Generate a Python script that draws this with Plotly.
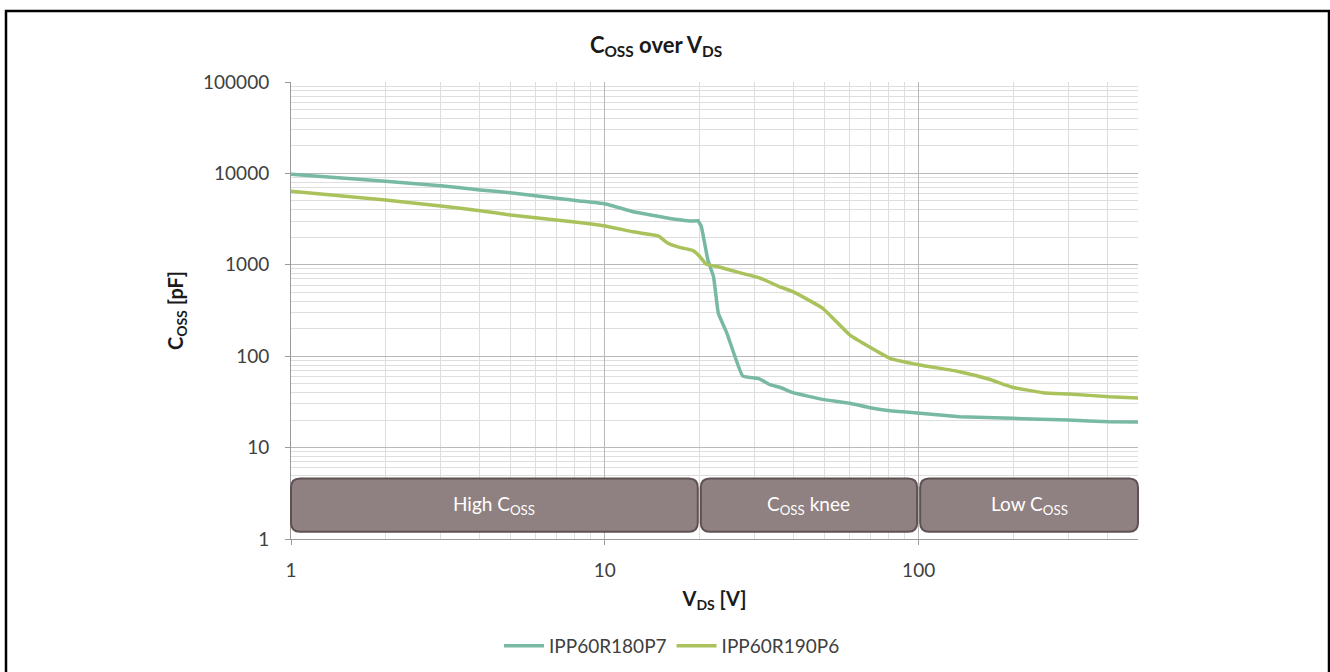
import math
import plotly.graph_objects as go

# ---------------- data ----------------
vds_p7 = [1, 2, 3, 4, 5, 7, 8.3, 10, 12.3, 13.6, 16.5, 19.1, 19.8, 20.3, 21.3, 22.2, 23.0,
          24.5, 27.5, 31.1, 33.6, 36.1, 39.8, 49.5, 60.3, 70, 81, 89.3, 101, 135, 199, 301, 405, 500]
coss_p7 = [9800, 8200, 7330, 6580, 6150, 5340, 5000, 4650, 3810, 3570, 3170, 3010, 3040, 2610, 1130,
           741, 295, 178, 60.7, 56.5, 48.8, 45.7, 39.9, 33.7, 30.5, 27.3, 25.3, 24.7, 23.7, 21.8,
           20.9, 20.0, 19.2, 19.1]

vds_p6 = [1, 2, 3, 4, 5, 7, 8.3, 10, 12.3, 14.8, 15.9, 17.3, 19.1, 20.0, 21.0, 23.3, 26.9, 31.1,
          36.1, 39.8, 49.5, 60.3, 70, 81, 101, 135, 168, 199, 249, 301, 405, 500]
coss_p6 = [6370, 5120, 4400, 3910, 3510, 3090, 2900, 2660, 2300, 2070, 1720, 1550, 1430, 1250, 1020,
           940, 820, 720, 575, 508, 334, 171, 125, 94.8, 80.1, 67.7, 55.9, 45.7, 39.9, 38.6, 36.0, 34.9]

series_names = ["IPP60R180P7", "IPP60R190P6"]
series_colors = ["#78b9a3", "#a9c25b"]

y_tickvals = [1, 10, 100, 1000, 10000, 100000]
y_ticktext = ["1", "10", "100", "1000", "10000", "100000"]
x_tickvals = [1, 10, 100]
x_ticktext = ["1", "10", "100"]

# region bands: label, start V, end V
regions = [("High C<sub>OSS</sub>", 1, 20),
           ("C<sub>OSS</sub> knee", 20, 100),
           ("Low C<sub>OSS</sub>", 100, 500)]
band_c = (1.2, 4.6)  # vertical extent of bands in pF

# ---------------- layout geometry ----------------
W, H = 1330, 672
ML, MR, MT, MB = 291, 192, 82, 133
PW, PH = W - ML - MR, H - MT - MB
XR = [0, math.log10(500)]
YR = [0, 5]
FONT = "Lato, 'Open Sans', sans-serif"


def px_x(px):
    return (px - ML) / PW


def px_y(py):
    return 1 - (py - MT) / PH


def vx(v):
    return (math.log10(v) - XR[0]) / (XR[1] - XR[0])


def vy(v):
    return (math.log10(v) - YR[0]) / (YR[1] - YR[0])


fig = go.Figure()
for name, xs, ys, col in [(series_names[0], vds_p7, coss_p7, series_colors[0]),
                          (series_names[1], vds_p6, coss_p6, series_colors[1])]:
    fig.add_trace(go.Scatter(x=xs, y=ys, mode="lines", name=name,
                             line=dict(color=col, width=3.5, shape="spline", smoothing=0.3)))

shapes = []
annotations = []
gap = 1.5  # px gap between bands
r = 9  # corner radius px
rx, ry = r / PW, r / PH
for i, (label, v0, v1) in enumerate(regions):
    x0 = vx(v0) + (gap / PW if i > 0 else 0)
    x1 = vx(v1) - (gap / PW if i < len(regions) - 1 else 0)
    y0, y1 = vy(band_c[0]), vy(band_c[1])
    path = (f"M {x0+rx},{y1} L {x1-rx},{y1} Q {x1},{y1} {x1},{y1-ry} "
            f"L {x1},{y0+ry} Q {x1},{y0} {x1-rx},{y0} L {x0+rx},{y0} "
            f"Q {x0},{y0} {x0},{y0+ry} L {x0},{y1-ry} Q {x0},{y1} {x0+rx},{y1} Z")
    shapes.append(dict(type="path", xref="paper", yref="paper", path=path,
                       fillcolor="#8f8081", line=dict(color="#5f5053", width=2), layer="above"))
    annotations.append(dict(xref="paper", yref="paper", x=(x0 + x1) / 2, y=(y0 + y1) / 2,
                            text=label, showarrow=False, xanchor="center", yanchor="middle",
                            font=dict(family=FONT, size=19, color="white")))

# outer frame
shapes.append(dict(type="rect", xref="paper", yref="paper", x0=px_x(6), x1=px_x(1329),
                   y0=px_y(710), y1=px_y(11), line=dict(color="black", width=2.5),
                   fillcolor="rgba(0,0,0,0)", layer="above"))

fig.update_layout(
    width=W, height=H,
    margin=dict(l=ML, r=MR, t=MT, b=MB, autoexpand=False),
    paper_bgcolor="white", plot_bgcolor="white",
    font=dict(family=FONT, color="#404040", size=19),
    title=dict(text="<b>C<sub>OSS</sub> over V<sub>DS</sub></b>", x=656 / W, xanchor="center",
               y=1 - 45 / H, yanchor="middle", font=dict(family=FONT, size=22, color="#1a1a1a")),
    showlegend=True,
    legend=dict(orientation="h", x=672 / W, xanchor="center", xref="container",
                y=1 - 646 / H, yanchor="middle", yref="container",
                font=dict(family=FONT, size=19, color="#404040"),
                itemwidth=40, traceorder="normal"),
    shapes=shapes,
    annotations=annotations,
)

fig.update_xaxes(type="log", range=XR, tickvals=x_tickvals, ticktext=x_ticktext,
                 showgrid=True, gridcolor="#b8b8b8", gridwidth=1,
                 minor=dict(dtick="D1", showgrid=True, gridcolor="#dedede", gridwidth=1, ticks=""),
                 showline=True, linecolor="#9a9a9a", linewidth=1,
                 ticks="outside", ticklen=5, tickcolor="#9a9a9a",
                 ticklabelstandoff=9, tickfont=dict(size=19, color="#404040"),
                 title=dict(text="<b>V<sub>DS</sub> [V]</b>", standoff=12,
                            font=dict(size=20, color="#1a1a1a")),
                 zeroline=False, automargin=False)
fig.update_yaxes(type="log", range=YR, tickvals=y_tickvals, ticktext=y_ticktext,
                 showgrid=True, gridcolor="#b8b8b8", gridwidth=1,
                 minor=dict(dtick="D1", showgrid=True, gridcolor="#dedede", gridwidth=1, ticks=""),
                 showline=True, linecolor="#9a9a9a", linewidth=1,
                 ticks="outside", ticklen=5, tickcolor="#9a9a9a",
                 ticklabelstandoff=12, tickfont=dict(size=19, color="#404040"),
                 title=dict(text="<b>C<sub>OSS</sub> [pF]</b>", standoff=14,
                            font=dict(size=20, color="#1a1a1a")),
                 zeroline=False, automargin=False)

fig.write_html("out.html")
